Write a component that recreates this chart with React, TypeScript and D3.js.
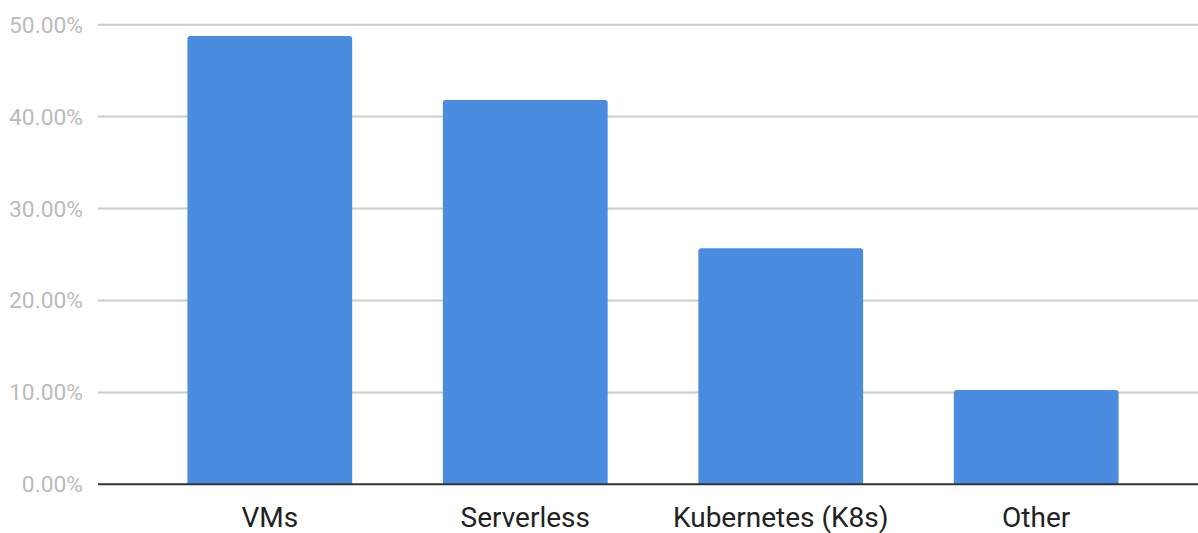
import React from 'react';
import * as d3 from 'd3';

const categories = ['VMs', 'Serverless', 'Kubernetes (K8s)', 'Other'];
const shares = [48.78, 41.8, 25.68, 10.26];
const yTicks = [0, 10, 20, 30, 40, 50];

const W = 1198, H = 533;

export default function App() {
  const ref = React.useRef<SVGSVGElement>(null);

  React.useEffect(() => {
    if (!ref.current) return;
    const svg = d3.select(ref.current);
    svg.selectAll('*').remove();

    const x = d3.scaleBand<string>().domain(categories).range([98, 1208])
      .paddingInner(0.355).paddingOuter(0.35);
    const y = d3.scaleLinear().domain([0, 50]).range([484.3, 24.7]);

    // gridlines
    svg.append('g').selectAll('line').data(yTicks.filter(t => t > 0)).join('line')
      .attr('x1', 98).attr('x2', W)
      .attr('y1', d => y(d)).attr('y2', d => y(d))
      .attr('stroke', '#cccccc').attr('stroke-width', 2);

    // tick labels
    svg.append('g').selectAll('text').data(yTicks).join('text')
      .attr('x', 83).attr('y', d => y(d) + 8)
      .attr('text-anchor', 'end')
      .attr('font-family', 'Roboto, sans-serif').attr('font-size', 22.8)
      .attr('fill', '#bbbbbb')
      .text(d => d.toFixed(2) + '%');

    // bars with rounded top corners
    const r = 3;
    svg.append('g').selectAll('path').data(shares).join('path')
      .attr('fill', '#4a8de0')
      .attr('d', (d, i) => {
        const x0 = x(categories[i])!, x1 = x0 + x.bandwidth();
        const yt = y(d), yb = y(0);
        const p = d3.path();
        p.moveTo(x0, yb);
        p.lineTo(x0, yt + r);
        p.arcTo(x0, yt, x0 + r, yt, r);
        p.lineTo(x1 - r, yt);
        p.arcTo(x1, yt, x1, yt + r, r);
        p.lineTo(x1, yb);
        p.closePath();
        return p.toString();
      });

    // baseline
    svg.append('line')
      .attr('x1', 98).attr('x2', W)
      .attr('y1', y(0)).attr('y2', y(0))
      .attr('stroke', '#333333').attr('stroke-width', 2);

    // category labels
    svg.append('g').selectAll('text').data(categories).join('text')
      .attr('x', d => x(d)! + x.bandwidth() / 2).attr('y', 526.5)
      .attr('text-anchor', 'middle')
      .attr('font-family', 'Roboto, sans-serif').attr('font-size', 28)
      .attr('fill', '#222222')
      .text(d => d);
  }, []);

  return (
    <svg ref={ref} width={W} height={H} viewBox={`0 0 ${W} ${H}`}
      style={{ position: 'absolute', left: 0, top: 0, background: '#fff' }} />
  );
}
